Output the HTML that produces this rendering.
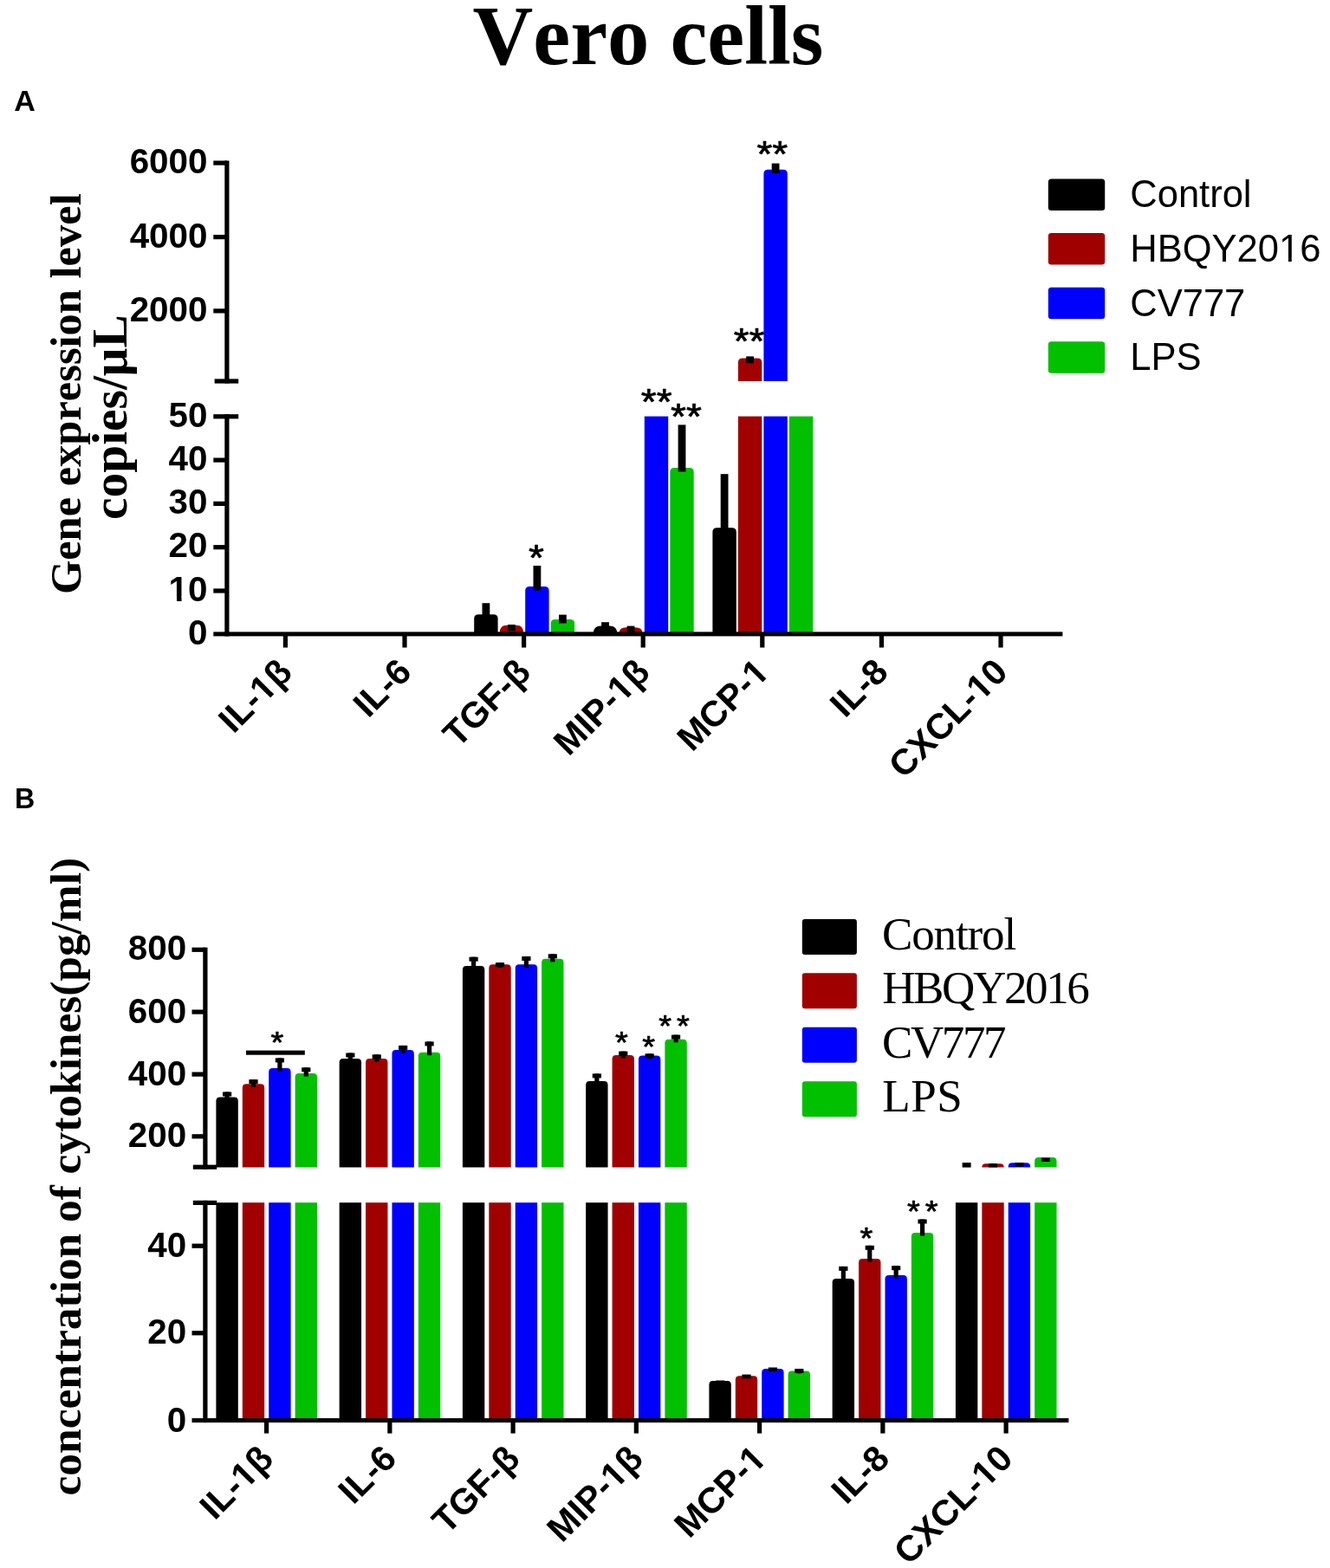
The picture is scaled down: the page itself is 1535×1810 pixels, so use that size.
<!DOCTYPE html>
<html lang="en">
<head>
<meta charset="utf-8">
<title>Vero cells</title>
<style>
html,body{margin:0;padding:0;background:#ffffff;}
body{width:1535px;height:1810px;overflow:hidden;}
svg{display:block;}
text{fill:#000;font-kerning:none;}
</style>
</head>
<body>
<svg width="1535" height="1810" viewBox="0 0 1535 1810">
<rect x="0" y="0" width="1535" height="1810" fill="#ffffff"/>
<text x="545.50" y="74.30" font-family="'Liberation Serif','Times New Roman',serif" font-size="96.6" font-weight="bold" text-anchor="start">Vero cells</text>
<text x="16.30" y="127.60" font-family="'Liberation Sans',Arial,sans-serif" font-size="33.4" font-weight="bold" text-anchor="start" transform="translate(16.3 0) scale(1.02 1) translate(-16.3 0)">A</text>
<text x="17.10" y="932.60" font-family="'Liberation Sans',Arial,sans-serif" font-size="33.4" font-weight="bold" text-anchor="start" transform="translate(17.1 0) scale(0.965 1) translate(-17.1 0)">B</text>
<text x="149.63" y="199.90" font-family="'Liberation Sans',Arial,sans-serif" font-size="40.4" font-weight="bold">6000</text>
<text x="149.63" y="286.40" font-family="'Liberation Sans',Arial,sans-serif" font-size="40.4" font-weight="bold">4000</text>
<text x="149.63" y="370.70" font-family="'Liberation Sans',Arial,sans-serif" font-size="40.4" font-weight="bold">2000</text>
<text x="194.56" y="492.60" font-family="'Liberation Sans',Arial,sans-serif" font-size="40.4" font-weight="bold">50</text>
<text x="194.56" y="542.90" font-family="'Liberation Sans',Arial,sans-serif" font-size="40.4" font-weight="bold">40</text>
<text x="194.56" y="592.80" font-family="'Liberation Sans',Arial,sans-serif" font-size="40.4" font-weight="bold">30</text>
<text x="194.56" y="642.60" font-family="'Liberation Sans',Arial,sans-serif" font-size="40.4" font-weight="bold">20</text>
<g>
<text x="194.56" y="693.80" font-family="'Liberation Sans',Arial,sans-serif" font-size="40.4" font-weight="bold">10</text>
<rect x="196.01" y="688.58" width="7.98" height="6.32" fill="#fff"/>
<rect x="209.54" y="688.58" width="7.47" height="6.32" fill="#fff"/>
</g>
<text x="217.03" y="744.30" font-family="'Liberation Sans',Arial,sans-serif" font-size="40.4" font-weight="bold">0</text>
<g transform="rotate(-45 339.40 778.00)">
<text x="240.53" y="778.00" font-family="'Liberation Sans',Arial,sans-serif" font-size="41.4" font-weight="bold">IL-1β</text>
<rect x="292.61" y="772.68" width="8.15" height="6.42" fill="#fff"/>
<rect x="306.45" y="772.68" width="7.63" height="6.42" fill="#fff"/>
</g>
<g transform="rotate(-45 477.00 778.00)">
<text x="403.40" y="778.00" font-family="'Liberation Sans',Arial,sans-serif" font-size="41.4" font-weight="bold">IL-6</text>
</g>
<g transform="rotate(-45 614.60 778.00)">
<text x="492.77" y="778.00" font-family="'Liberation Sans',Arial,sans-serif" font-size="41.4" font-weight="bold">TGF-β</text>
</g>
<g transform="rotate(-45 752.20 778.00)">
<text x="616.52" y="778.00" font-family="'Liberation Sans',Arial,sans-serif" font-size="41.4" font-weight="bold">MIP-1β</text>
<rect x="705.41" y="772.68" width="8.15" height="6.42" fill="#fff"/>
<rect x="719.25" y="772.68" width="7.63" height="6.42" fill="#fff"/>
</g>
<g transform="rotate(-45 889.80 778.00)">
<text x="760.99" y="778.00" font-family="'Liberation Sans',Arial,sans-serif" font-size="41.4" font-weight="bold">MCP-1</text>
<rect x="868.28" y="772.68" width="8.15" height="6.42" fill="#fff"/>
<rect x="882.12" y="772.68" width="7.63" height="6.42" fill="#fff"/>
</g>
<g transform="rotate(-45 1027.40 778.00)">
<text x="953.80" y="778.00" font-family="'Liberation Sans',Arial,sans-serif" font-size="41.4" font-weight="bold">IL-8</text>
</g>
<g transform="rotate(-45 1165.00 778.00)">
<text x="992.47" y="778.00" font-family="'Liberation Sans',Arial,sans-serif" font-size="41.4" font-weight="bold">CXCL-10</text>
<rect x="1120.46" y="772.68" width="8.15" height="6.42" fill="#fff"/>
<rect x="1134.29" y="772.68" width="7.63" height="6.42" fill="#fff"/>
</g>
<path d="M547.20 731.90 L547.20 714.30 Q547.20 709.30 552.20 709.30 L569.60 709.30 Q574.60 709.30 574.60 714.30 L574.60 731.90 Z" fill="#000000"/>
<rect x="556.50" y="696.20" width="8.80" height="17.60" fill="#000000"/>
<path d="M576.70 731.90 L576.70 730.78 Q576.70 721.80 584.60 721.80 L596.20 721.80 Q604.10 721.80 604.10 730.78 L604.10 731.90 Z" fill="#a00000"/>
<rect x="586.00" y="721.00" width="8.80" height="7.30" fill="#000000"/>
<path d="M606.20 731.90 L606.20 682.00 Q606.20 677.00 611.20 677.00 L628.60 677.00 Q633.60 677.00 633.60 682.00 L633.60 731.90 Z" fill="#0000ff"/>
<rect x="615.50" y="653.00" width="8.80" height="28.50" fill="#000000"/>
<path d="M635.70 731.90 L635.70 720.00 Q635.70 715.00 640.70 715.00 L658.10 715.00 Q663.10 715.00 663.10 720.00 L663.10 731.90 Z" fill="#00c000"/>
<rect x="645.00" y="709.60" width="8.80" height="9.90" fill="#000000"/>
<path d="M684.80 731.90 L684.80 731.60 Q684.80 722.60 693.30 722.60 L703.70 722.60 Q712.20 722.60 712.20 731.60 L712.20 731.90 Z" fill="#000000"/>
<rect x="694.10" y="718.20" width="8.80" height="10.90" fill="#000000"/>
<path d="M714.30 731.90 L714.30 731.60 Q714.30 724.20 722.80 724.20 L733.20 724.20 Q741.70 724.20 741.70 731.60 L741.70 731.90 Z" fill="#a00000"/>
<rect x="723.60" y="722.60" width="8.80" height="8.10" fill="#000000"/>
<rect x="743.80" y="480.60" width="27.40" height="251.30" fill="#0000ff"/>
<path d="M773.30 731.90 L773.30 545.00 Q773.30 540.00 778.30 540.00 L795.70 540.00 Q800.70 540.00 800.70 545.00 L800.70 731.90 Z" fill="#00c000"/>
<rect x="782.60" y="490.40" width="8.80" height="54.10" fill="#000000"/>
<path d="M822.40 731.90 L822.40 614.30 Q822.40 609.30 827.40 609.30 L844.80 609.30 Q849.80 609.30 849.80 614.30 L849.80 731.90 Z" fill="#000000"/>
<rect x="831.70" y="547.20" width="8.80" height="66.60" fill="#000000"/>
<rect x="851.90" y="480.60" width="27.40" height="251.30" fill="#a00000"/>
<rect x="881.40" y="480.60" width="27.40" height="251.30" fill="#0000ff"/>
<rect x="910.90" y="480.60" width="27.40" height="251.30" fill="#00c000"/>
<path d="M851.90 440.10 L851.90 418.50 Q851.90 413.50 856.90 413.50 L874.30 413.50 Q879.30 413.50 879.30 418.50 L879.30 440.10 Z" fill="#a00000"/>
<rect x="861.20" y="411.40" width="8.80" height="7.90" fill="#000000"/>
<path d="M881.40 440.10 L881.40 200.70 Q881.40 195.70 886.40 195.70 L903.80 195.70 Q908.80 195.70 908.80 200.70 L908.80 440.10 Z" fill="#0000ff"/>
<rect x="890.70" y="188.60" width="8.80" height="11.20" fill="#000000"/>
<text x="609.95" y="660.10" font-family="'Liberation Sans',Arial,sans-serif" font-size="46" font-weight="normal" text-anchor="start" stroke="#000" stroke-width="0.8" stroke-linejoin="round" transform="translate(0 636.11) scale(1 0.92) translate(0 -636.11)">*</text>
<text x="739.81" y="479.90" font-family="'Liberation Sans',Arial,sans-serif" font-size="46" font-weight="normal" text-anchor="start" stroke="#000" stroke-width="0.8" stroke-linejoin="round" transform="translate(0 455.91) scale(1 0.92) translate(0 -455.91)">**</text>
<text x="774.11" y="496.60" font-family="'Liberation Sans',Arial,sans-serif" font-size="46" font-weight="normal" text-anchor="start" stroke="#000" stroke-width="0.8" stroke-linejoin="round" transform="translate(0 472.61) scale(1 0.92) translate(0 -472.61)">**</text>
<text x="846.71" y="410.30" font-family="'Liberation Sans',Arial,sans-serif" font-size="46" font-weight="normal" text-anchor="start" stroke="#000" stroke-width="0.8" stroke-linejoin="round" transform="translate(0 386.31) scale(1 0.92) translate(0 -386.31)">**</text>
<text x="873.41" y="194.20" font-family="'Liberation Sans',Arial,sans-serif" font-size="46" font-weight="normal" text-anchor="start" stroke="#000" stroke-width="0.8" stroke-linejoin="round" transform="translate(0 170.21) scale(1 0.92) translate(0 -170.21)">**</text>
<text x="93.00" y="454.70" font-family="'Liberation Serif','Times New Roman',serif" font-size="50.5" font-weight="bold" text-anchor="middle" transform="rotate(-90 93.00 454.70)">Gene expression level</text>
<text x="145.60" y="481.60" font-family="'Liberation Serif','Times New Roman',serif" font-size="57.4" font-weight="bold" text-anchor="middle" transform="rotate(-90 145.60 481.60)">copies/μL</text>
<rect x="1209.8" y="206.40" width="65.4" height="36.5" rx="3.5" fill="#000000"/>
<text x="1304.30" y="239.40" font-family="'Liberation Sans',Arial,sans-serif" font-size="43.5" font-weight="normal">Control</text>
<rect x="1209.8" y="269.05" width="65.4" height="36.5" rx="3.5" fill="#a00000"/>
<g>
<text x="1304.30" y="301.95" font-family="'Liberation Sans',Arial,sans-serif" font-size="43.5" font-weight="normal">HBQY2016</text>
<rect x="1478.18" y="297.60" width="8.73" height="5.45" fill="#fff"/>
<rect x="1490.75" y="297.60" width="8.39" height="5.45" fill="#fff"/>
</g>
<rect x="1209.8" y="331.70" width="65.4" height="36.5" rx="3.5" fill="#0000ff"/>
<text x="1304.30" y="364.50" font-family="'Liberation Sans',Arial,sans-serif" font-size="43.5" font-weight="normal">CV777</text>
<rect x="1209.8" y="394.35" width="65.4" height="36.5" rx="3.5" fill="#00c000"/>
<text x="1304.30" y="427.05" font-family="'Liberation Sans',Arial,sans-serif" font-size="43.5" font-weight="normal">LPS</text>
<text x="147.79" y="1108.10" font-family="'Liberation Sans',Arial,sans-serif" font-size="40.4" font-weight="bold">800</text>
<text x="147.79" y="1180.90" font-family="'Liberation Sans',Arial,sans-serif" font-size="40.4" font-weight="bold">600</text>
<text x="147.79" y="1253.10" font-family="'Liberation Sans',Arial,sans-serif" font-size="40.4" font-weight="bold">400</text>
<text x="147.79" y="1323.60" font-family="'Liberation Sans',Arial,sans-serif" font-size="40.4" font-weight="bold">200</text>
<text x="170.26" y="1450.80" font-family="'Liberation Sans',Arial,sans-serif" font-size="40.4" font-weight="bold">40</text>
<text x="170.26" y="1551.10" font-family="'Liberation Sans',Arial,sans-serif" font-size="40.4" font-weight="bold">20</text>
<text x="192.73" y="1652.50" font-family="'Liberation Sans',Arial,sans-serif" font-size="40.4" font-weight="bold">0</text>
<g transform="rotate(-45 317.60 1686.00)">
<text x="218.73" y="1686.00" font-family="'Liberation Sans',Arial,sans-serif" font-size="41.4" font-weight="bold">IL-1β</text>
<rect x="270.81" y="1680.68" width="8.15" height="6.42" fill="#fff"/>
<rect x="284.65" y="1680.68" width="7.63" height="6.42" fill="#fff"/>
</g>
<g transform="rotate(-45 459.85 1686.00)">
<text x="386.25" y="1686.00" font-family="'Liberation Sans',Arial,sans-serif" font-size="41.4" font-weight="bold">IL-6</text>
</g>
<g transform="rotate(-45 602.10 1686.00)">
<text x="480.27" y="1686.00" font-family="'Liberation Sans',Arial,sans-serif" font-size="41.4" font-weight="bold">TGF-β</text>
</g>
<g transform="rotate(-45 744.35 1686.00)">
<text x="608.67" y="1686.00" font-family="'Liberation Sans',Arial,sans-serif" font-size="41.4" font-weight="bold">MIP-1β</text>
<rect x="697.56" y="1680.68" width="8.15" height="6.42" fill="#fff"/>
<rect x="711.40" y="1680.68" width="7.63" height="6.42" fill="#fff"/>
</g>
<g transform="rotate(-45 886.60 1686.00)">
<text x="757.79" y="1686.00" font-family="'Liberation Sans',Arial,sans-serif" font-size="41.4" font-weight="bold">MCP-1</text>
<rect x="865.08" y="1680.68" width="8.15" height="6.42" fill="#fff"/>
<rect x="878.92" y="1680.68" width="7.63" height="6.42" fill="#fff"/>
</g>
<g transform="rotate(-45 1028.85 1686.00)">
<text x="955.25" y="1686.00" font-family="'Liberation Sans',Arial,sans-serif" font-size="41.4" font-weight="bold">IL-8</text>
</g>
<g transform="rotate(-45 1171.10 1686.00)">
<text x="998.57" y="1686.00" font-family="'Liberation Sans',Arial,sans-serif" font-size="41.4" font-weight="bold">CXCL-10</text>
<rect x="1126.56" y="1680.68" width="8.15" height="6.42" fill="#fff"/>
<rect x="1140.39" y="1680.68" width="7.63" height="6.42" fill="#fff"/>
</g>
<path d="M249.40 1347.60 L249.40 1270.80 Q249.40 1266.40 253.80 1266.40 L270.40 1266.40 Q274.80 1266.40 274.80 1270.80 L274.80 1347.60 Z" fill="#000000"/>
<rect x="249.40" y="1388.20" width="25.40" height="251.40" fill="#000000"/>
<rect x="257.00" y="1260.50" width="10.20" height="5.00" fill="#000000"/>
<rect x="259.50" y="1260.50" width="5.20" height="9.40" fill="#000000"/>
<path d="M279.80 1347.60 L279.80 1255.70 Q279.80 1251.30 284.20 1251.30 L300.80 1251.30 Q305.20 1251.30 305.20 1255.70 L305.20 1347.60 Z" fill="#a00000"/>
<rect x="279.80" y="1388.20" width="25.40" height="251.40" fill="#a00000"/>
<rect x="287.40" y="1246.10" width="10.20" height="5.00" fill="#000000"/>
<rect x="289.90" y="1246.10" width="5.20" height="8.70" fill="#000000"/>
<path d="M310.20 1347.60 L310.20 1237.50 Q310.20 1233.10 314.60 1233.10 L331.20 1233.10 Q335.60 1233.10 335.60 1237.50 L335.60 1347.60 Z" fill="#0000ff"/>
<rect x="310.20" y="1388.20" width="25.40" height="251.40" fill="#0000ff"/>
<rect x="317.80" y="1221.40" width="10.20" height="5.00" fill="#000000"/>
<rect x="320.30" y="1221.40" width="5.20" height="15.20" fill="#000000"/>
<path d="M340.60 1347.60 L340.60 1243.50 Q340.60 1239.10 345.00 1239.10 L361.60 1239.10 Q366.00 1239.10 366.00 1243.50 L366.00 1347.60 Z" fill="#00c000"/>
<rect x="340.60" y="1388.20" width="25.40" height="251.40" fill="#00c000"/>
<rect x="348.20" y="1232.30" width="10.20" height="5.00" fill="#000000"/>
<rect x="350.70" y="1232.30" width="5.20" height="10.30" fill="#000000"/>
<path d="M391.65 1347.60 L391.65 1226.40 Q391.65 1222.00 396.05 1222.00 L412.65 1222.00 Q417.05 1222.00 417.05 1226.40 L417.05 1347.60 Z" fill="#000000"/>
<rect x="391.65" y="1388.20" width="25.40" height="251.40" fill="#000000"/>
<rect x="399.25" y="1215.50" width="10.20" height="5.00" fill="#000000"/>
<rect x="401.75" y="1215.50" width="5.20" height="10.00" fill="#000000"/>
<path d="M422.05 1347.60 L422.05 1226.40 Q422.05 1222.00 426.45 1222.00 L443.05 1222.00 Q447.45 1222.00 447.45 1226.40 L447.45 1347.60 Z" fill="#a00000"/>
<rect x="422.05" y="1388.20" width="25.40" height="251.40" fill="#a00000"/>
<rect x="429.65" y="1217.30" width="10.20" height="5.00" fill="#000000"/>
<rect x="432.15" y="1217.30" width="5.20" height="8.20" fill="#000000"/>
<path d="M452.45 1347.60 L452.45 1216.50 Q452.45 1212.10 456.85 1212.10 L473.45 1212.10 Q477.85 1212.10 477.85 1216.50 L477.85 1347.60 Z" fill="#0000ff"/>
<rect x="452.45" y="1388.20" width="25.40" height="251.40" fill="#0000ff"/>
<rect x="460.05" y="1206.90" width="10.20" height="5.00" fill="#000000"/>
<rect x="462.55" y="1206.90" width="5.20" height="8.70" fill="#000000"/>
<path d="M482.85 1347.60 L482.85 1219.10 Q482.85 1214.70 487.25 1214.70 L503.85 1214.70 Q508.25 1214.70 508.25 1219.10 L508.25 1347.60 Z" fill="#00c000"/>
<rect x="482.85" y="1388.20" width="25.40" height="251.40" fill="#00c000"/>
<rect x="490.45" y="1202.40" width="10.20" height="5.00" fill="#000000"/>
<rect x="492.95" y="1202.40" width="5.20" height="15.80" fill="#000000"/>
<path d="M533.90 1347.60 L533.90 1119.50 Q533.90 1115.10 538.30 1115.10 L554.90 1115.10 Q559.30 1115.10 559.30 1119.50 L559.30 1347.60 Z" fill="#000000"/>
<rect x="533.90" y="1388.20" width="25.40" height="251.40" fill="#000000"/>
<rect x="541.50" y="1104.70" width="10.20" height="5.00" fill="#000000"/>
<rect x="544.00" y="1104.70" width="5.20" height="13.90" fill="#000000"/>
<path d="M564.30 1347.60 L564.30 1117.70 Q564.30 1113.30 568.70 1113.30 L585.30 1113.30 Q589.70 1113.30 589.70 1117.70 L589.70 1347.60 Z" fill="#a00000"/>
<rect x="564.30" y="1388.20" width="25.40" height="251.40" fill="#a00000"/>
<rect x="571.90" y="1111.20" width="10.20" height="5.00" fill="#000000"/>
<rect x="574.40" y="1111.20" width="5.20" height="5.60" fill="#000000"/>
<path d="M594.70 1347.60 L594.70 1117.70 Q594.70 1113.30 599.10 1113.30 L615.70 1113.30 Q620.10 1113.30 620.10 1117.70 L620.10 1347.60 Z" fill="#0000ff"/>
<rect x="594.70" y="1388.20" width="25.40" height="251.40" fill="#0000ff"/>
<rect x="602.30" y="1104.00" width="10.20" height="5.00" fill="#000000"/>
<rect x="604.80" y="1104.00" width="5.20" height="12.80" fill="#000000"/>
<path d="M625.10 1347.60 L625.10 1111.20 Q625.10 1106.80 629.50 1106.80 L646.10 1106.80 Q650.50 1106.80 650.50 1111.20 L650.50 1347.60 Z" fill="#00c000"/>
<rect x="625.10" y="1388.20" width="25.40" height="251.40" fill="#00c000"/>
<rect x="632.70" y="1101.30" width="10.20" height="5.00" fill="#000000"/>
<rect x="635.20" y="1101.30" width="5.20" height="9.00" fill="#000000"/>
<path d="M676.15 1347.60 L676.15 1252.40 Q676.15 1248.00 680.55 1248.00 L697.15 1248.00 Q701.55 1248.00 701.55 1252.40 L701.55 1347.60 Z" fill="#000000"/>
<rect x="676.15" y="1388.20" width="25.40" height="251.40" fill="#000000"/>
<rect x="683.75" y="1239.40" width="10.20" height="5.00" fill="#000000"/>
<rect x="686.25" y="1239.40" width="5.20" height="12.10" fill="#000000"/>
<path d="M706.55 1347.60 L706.55 1222.40 Q706.55 1218.00 710.95 1218.00 L727.55 1218.00 Q731.95 1218.00 731.95 1222.40 L731.95 1347.60 Z" fill="#a00000"/>
<rect x="706.55" y="1388.20" width="25.40" height="251.40" fill="#a00000"/>
<rect x="714.15" y="1213.60" width="10.20" height="5.00" fill="#000000"/>
<rect x="716.65" y="1213.60" width="5.20" height="7.90" fill="#000000"/>
<path d="M736.95 1347.60 L736.95 1223.00 Q736.95 1218.60 741.35 1218.60 L757.95 1218.60 Q762.35 1218.60 762.35 1223.00 L762.35 1347.60 Z" fill="#0000ff"/>
<rect x="736.95" y="1388.20" width="25.40" height="251.40" fill="#0000ff"/>
<rect x="744.55" y="1216.30" width="10.20" height="5.00" fill="#000000"/>
<rect x="747.05" y="1216.30" width="5.20" height="5.80" fill="#000000"/>
<path d="M767.35 1347.60 L767.35 1204.20 Q767.35 1199.80 771.75 1199.80 L788.35 1199.80 Q792.75 1199.80 792.75 1204.20 L792.75 1347.60 Z" fill="#00c000"/>
<rect x="767.35" y="1388.20" width="25.40" height="251.40" fill="#00c000"/>
<rect x="774.95" y="1194.60" width="10.20" height="5.00" fill="#000000"/>
<rect x="777.45" y="1194.60" width="5.20" height="8.70" fill="#000000"/>
<path d="M818.40 1639.60 L818.40 1598.50 Q818.40 1594.10 822.80 1594.10 L839.40 1594.10 Q843.80 1594.10 843.80 1598.50 L843.80 1639.60 Z" fill="#000000"/>
<rect x="826.00" y="1593.50" width="10.20" height="3.60" fill="#000000"/>
<path d="M848.80 1639.60 L848.80 1592.70 Q848.80 1588.30 853.20 1588.30 L869.80 1588.30 Q874.20 1588.30 874.20 1592.70 L874.20 1639.60 Z" fill="#a00000"/>
<rect x="856.40" y="1586.60" width="10.20" height="4.70" fill="#000000"/>
<path d="M879.20 1639.60 L879.20 1584.50 Q879.20 1580.10 883.60 1580.10 L900.20 1580.10 Q904.60 1580.10 904.60 1584.50 L904.60 1639.60 Z" fill="#0000ff"/>
<rect x="886.80" y="1578.50" width="10.20" height="4.60" fill="#000000"/>
<path d="M909.60 1639.60 L909.60 1586.80 Q909.60 1582.40 914.00 1582.40 L930.60 1582.40 Q935.00 1582.40 935.00 1586.80 L935.00 1639.60 Z" fill="#00c000"/>
<rect x="917.20" y="1580.00" width="10.20" height="5.00" fill="#000000"/>
<rect x="919.70" y="1580.00" width="5.20" height="5.40" fill="#000000"/>
<path d="M960.65 1639.60 L960.65 1480.30 Q960.65 1475.90 965.05 1475.90 L981.65 1475.90 Q986.05 1475.90 986.05 1480.30 L986.05 1639.60 Z" fill="#000000"/>
<rect x="968.25" y="1461.90" width="10.20" height="5.00" fill="#000000"/>
<rect x="970.75" y="1461.90" width="5.20" height="17.50" fill="#000000"/>
<path d="M991.05 1639.60 L991.05 1457.50 Q991.05 1453.10 995.45 1453.10 L1012.05 1453.10 Q1016.45 1453.10 1016.45 1457.50 L1016.45 1639.60 Z" fill="#a00000"/>
<rect x="998.65" y="1437.80" width="10.20" height="5.00" fill="#000000"/>
<rect x="1001.15" y="1437.80" width="5.20" height="18.80" fill="#000000"/>
<path d="M1021.45 1639.60 L1021.45 1476.40 Q1021.45 1472.00 1025.85 1472.00 L1042.45 1472.00 Q1046.85 1472.00 1046.85 1476.40 L1046.85 1639.60 Z" fill="#0000ff"/>
<rect x="1029.05" y="1461.20" width="10.20" height="5.00" fill="#000000"/>
<rect x="1031.55" y="1461.20" width="5.20" height="14.30" fill="#000000"/>
<path d="M1051.85 1639.60 L1051.85 1427.50 Q1051.85 1423.10 1056.25 1423.10 L1072.85 1423.10 Q1077.25 1423.10 1077.25 1427.50 L1077.25 1639.60 Z" fill="#00c000"/>
<rect x="1059.45" y="1407.50" width="10.20" height="5.00" fill="#000000"/>
<rect x="1061.95" y="1407.50" width="5.20" height="19.10" fill="#000000"/>
<rect x="1102.90" y="1388.20" width="25.40" height="251.40" fill="#000000"/>
<rect x="1110.60" y="1342.10" width="10.00" height="5.50" fill="#000000"/>
<rect x="1133.30" y="1388.20" width="25.40" height="251.40" fill="#a00000"/>
<path d="M1133.30 1347.60 L1133.30 1347.60 Q1133.30 1343.30 1137.70 1343.30 L1154.30 1343.30 Q1158.70 1343.30 1158.70 1347.60 L1158.70 1347.60 Z" fill="#a00000"/>
<rect x="1141.00" y="1343.00" width="10.00" height="4.50" fill="#000000"/>
<rect x="1163.70" y="1388.20" width="25.40" height="251.40" fill="#0000ff"/>
<path d="M1163.70 1347.60 L1163.70 1346.60 Q1163.70 1342.20 1168.10 1342.20 L1184.70 1342.20 Q1189.10 1342.20 1189.10 1346.60 L1189.10 1347.60 Z" fill="#0000ff"/>
<rect x="1171.40" y="1342.10" width="10.00" height="4.50" fill="#000000"/>
<rect x="1194.10" y="1388.20" width="25.40" height="251.40" fill="#00c000"/>
<path d="M1194.10 1347.60 L1194.10 1340.40 Q1194.10 1336.00 1198.50 1336.00 L1215.10 1336.00 Q1219.50 1336.00 1219.50 1340.40 L1219.50 1347.60 Z" fill="#00c000"/>
<rect x="1201.80" y="1336.50" width="10.00" height="4.50" fill="#000000"/>
<rect x="284.00" y="1212.60" width="67.80" height="5.10" fill="#000000"/>
<text x="312.51" y="1216.60" font-family="'Liberation Sans',Arial,sans-serif" font-size="38" font-weight="normal" text-anchor="start" stroke="#000" stroke-width="0.8" stroke-linejoin="round" letter-spacing="5.9" transform="translate(0 1196.73) scale(1 0.92) translate(0 -1196.73)">*</text>
<text x="709.91" y="1216.50" font-family="'Liberation Sans',Arial,sans-serif" font-size="38" font-weight="normal" text-anchor="start" stroke="#000" stroke-width="0.8" stroke-linejoin="round" letter-spacing="5.9" transform="translate(0 1196.63) scale(1 0.92) translate(0 -1196.63)">*</text>
<text x="741.21" y="1221.80" font-family="'Liberation Sans',Arial,sans-serif" font-size="38" font-weight="normal" text-anchor="start" stroke="#000" stroke-width="0.8" stroke-linejoin="round" letter-spacing="5.9" transform="translate(0 1201.93) scale(1 0.92) translate(0 -1201.93)">*</text>
<text x="760.27" y="1197.80" font-family="'Liberation Sans',Arial,sans-serif" font-size="38" font-weight="normal" text-anchor="start" stroke="#000" stroke-width="0.8" stroke-linejoin="round" letter-spacing="5.9" transform="translate(0 1177.93) scale(1 0.92) translate(0 -1177.93)">**</text>
<text x="992.51" y="1442.20" font-family="'Liberation Sans',Arial,sans-serif" font-size="38" font-weight="normal" text-anchor="start" stroke="#000" stroke-width="0.8" stroke-linejoin="round" letter-spacing="5.9" transform="translate(0 1422.33) scale(1 0.92) translate(0 -1422.33)">*</text>
<text x="1046.97" y="1411.40" font-family="'Liberation Sans',Arial,sans-serif" font-size="38" font-weight="normal" text-anchor="start" stroke="#000" stroke-width="0.8" stroke-linejoin="round" letter-spacing="5.9" transform="translate(0 1391.53) scale(1 0.92) translate(0 -1391.53)">**</text>
<text x="93.30" y="1358.20" font-family="'Liberation Serif','Times New Roman',serif" font-size="51.4" font-weight="bold" text-anchor="middle" transform="rotate(-90 93.30 1358.20)">concentration of cytokines(pg/ml)</text>
<rect x="925.8" y="1060.90" width="63.1" height="41.0" rx="3" fill="#000000"/>
<text x="1017.90" y="1095.90" font-family="'Liberation Serif','Times New Roman',serif" font-size="53" font-weight="normal" text-anchor="start" letter-spacing="-1.1">Control</text>
<rect x="925.8" y="1123.35" width="63.1" height="41.0" rx="3" fill="#a00000"/>
<text x="1018.20" y="1158.35" font-family="'Liberation Serif','Times New Roman',serif" font-size="53" font-weight="normal" text-anchor="start" letter-spacing="-2.36">HBQY2016</text>
<rect x="925.8" y="1185.80" width="63.1" height="41.0" rx="3" fill="#0000ff"/>
<text x="1017.90" y="1220.80" font-family="'Liberation Serif','Times New Roman',serif" font-size="53" font-weight="normal" text-anchor="start" letter-spacing="-2.35">CV777</text>
<rect x="925.8" y="1248.25" width="63.1" height="41.0" rx="3" fill="#00c000"/>
<text x="1018.20" y="1283.25" font-family="'Liberation Serif','Times New Roman',serif" font-size="53" font-weight="normal" text-anchor="start" letter-spacing="0.6">LPS</text>
<rect x="259.30" y="185.50" width="5.20" height="257.00" fill="#000000"/>
<rect x="246.30" y="185.50" width="15.60" height="5.20" fill="#000000"/>
<rect x="246.30" y="271.00" width="15.60" height="5.20" fill="#000000"/>
<rect x="246.30" y="356.30" width="15.60" height="5.20" fill="#000000"/>
<rect x="247.60" y="437.40" width="27.60" height="5.20" fill="#000000"/>
<rect x="259.30" y="478.20" width="5.20" height="256.20" fill="#000000"/>
<rect x="246.30" y="478.20" width="28.90" height="5.20" fill="#000000"/>
<rect x="246.30" y="528.50" width="15.60" height="5.20" fill="#000000"/>
<rect x="246.30" y="578.80" width="15.60" height="5.20" fill="#000000"/>
<rect x="246.30" y="629.10" width="15.60" height="5.20" fill="#000000"/>
<rect x="246.30" y="679.40" width="15.60" height="5.20" fill="#000000"/>
<rect x="246.30" y="729.40" width="980.10" height="5.00" fill="#000000"/>
<rect x="326.80" y="731.90" width="5.20" height="15.60" fill="#000000"/>
<rect x="464.40" y="731.90" width="5.20" height="15.60" fill="#000000"/>
<rect x="602.00" y="731.90" width="5.20" height="15.60" fill="#000000"/>
<rect x="739.60" y="731.90" width="5.20" height="15.60" fill="#000000"/>
<rect x="877.20" y="731.90" width="5.20" height="15.60" fill="#000000"/>
<rect x="1014.80" y="731.90" width="5.20" height="15.60" fill="#000000"/>
<rect x="1152.40" y="731.90" width="5.20" height="15.60" fill="#000000"/>
<rect x="234.30" y="1093.70" width="5.20" height="256.10" fill="#000000"/>
<rect x="221.50" y="1093.70" width="15.40" height="5.20" fill="#000000"/>
<rect x="221.50" y="1165.50" width="15.40" height="5.20" fill="#000000"/>
<rect x="221.50" y="1237.50" width="15.40" height="5.20" fill="#000000"/>
<rect x="221.50" y="1309.20" width="15.40" height="5.20" fill="#000000"/>
<rect x="222.80" y="1344.60" width="27.40" height="5.20" fill="#000000"/>
<rect x="234.30" y="1385.80" width="5.20" height="256.30" fill="#000000"/>
<rect x="222.80" y="1385.80" width="27.40" height="5.20" fill="#000000"/>
<rect x="221.50" y="1435.60" width="15.40" height="5.20" fill="#000000"/>
<rect x="221.50" y="1536.20" width="15.40" height="5.20" fill="#000000"/>
<rect x="221.50" y="1637.10" width="1011.90" height="5.00" fill="#000000"/>
<rect x="305.00" y="1639.60" width="5.20" height="15.00" fill="#000000"/>
<rect x="447.25" y="1639.60" width="5.20" height="15.00" fill="#000000"/>
<rect x="589.50" y="1639.60" width="5.20" height="15.00" fill="#000000"/>
<rect x="731.75" y="1639.60" width="5.20" height="15.00" fill="#000000"/>
<rect x="874.00" y="1639.60" width="5.20" height="15.00" fill="#000000"/>
<rect x="1016.25" y="1639.60" width="5.20" height="15.00" fill="#000000"/>
<rect x="1158.50" y="1639.60" width="5.20" height="15.00" fill="#000000"/>
</svg>
</body>
</html>
